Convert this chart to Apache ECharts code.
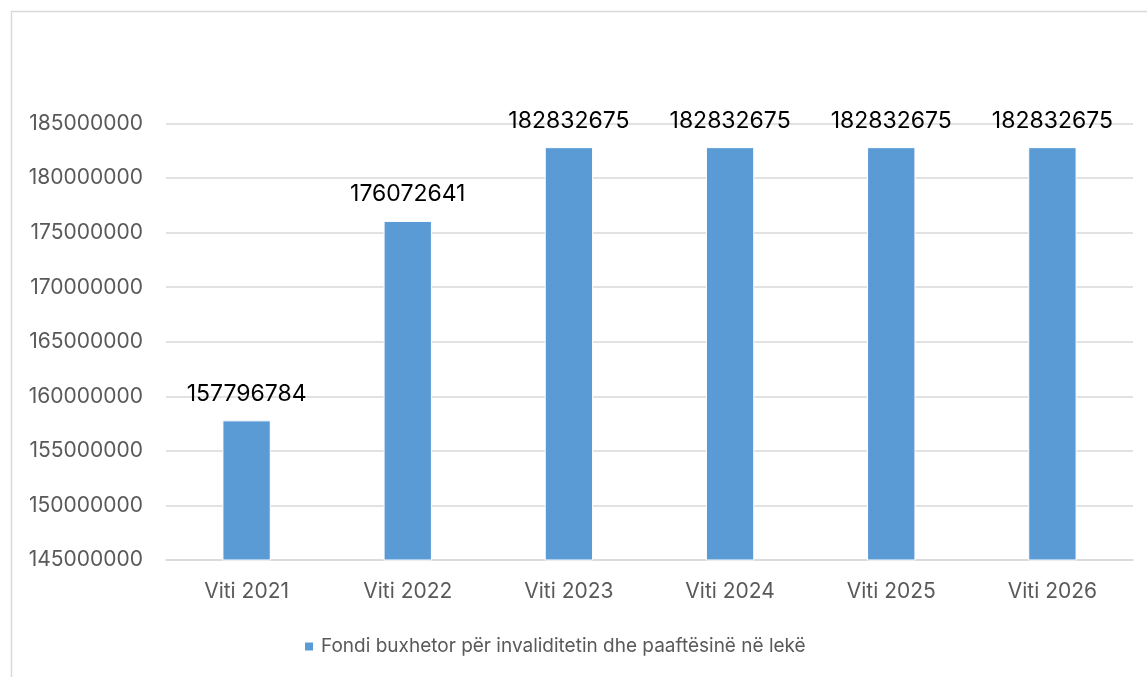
<!DOCTYPE html>
<html>
<head>
<meta charset="utf-8">
<script src="https://cdn.jsdelivr.net/npm/echarts@6/dist/echarts.min.js"></script>
<style>
html,body{margin:0;padding:0;background:#fff;}
#chart{width:1147px;height:677px;}
</style>
</head>
<body>
<div id="chart"></div>
<script>
const categories = ['Viti 2021','Viti 2022','Viti 2023','Viti 2024','Viti 2025','Viti 2026'];
const values = [157796784, 176072641, 182832675, 182832675, 182832675, 182832675];
const seriesName = 'Fondi buxhetor për invaliditetin dhe paaftësinë në lekë';
const yMin = 145000000, yMax = 185000000, yStep = 5000000;

const chart = echarts.init(document.getElementById('chart'), null, {renderer:'canvas'});
const FONT = 'Inter';
chart.setOption({
  animation:false,
  backgroundColor:'#ffffff',
  graphic:[{type:'rect', silent:true, shape:{x:11.5,y:11.5,width:1200,height:700}, style:{fill:'none',stroke:'#d9d9d9',lineWidth:1.5}}],
  grid:{left:166,right:14,top:123.5,bottom:117,containLabel:false},
  legend:{
    data:[seriesName], top:632, left:298,
    icon:'rect', itemWidth:10, itemHeight:10, itemGap:10,
    textStyle:{fontFamily:FONT,fontSize:19,color:'#595959',padding:[0,0,0,2]}
  },
  xAxis:{
    type:'category', data:categories,
    axisLine:{show:true,lineStyle:{color:'#d9d9d9',width:1.5}},
    axisTick:{show:false},
    axisLabel:{fontFamily:FONT,fontSize:21,color:'#595959',margin:21}
  },
  yAxis:{
    type:'value', min:yMin, max:yMax, interval:yStep,
    axisLine:{show:false}, axisTick:{show:false},
    splitLine:{lineStyle:{color:'#d9d9d9',width:1.5}},
    axisLabel:{fontFamily:FONT,fontSize:21,color:'#595959',margin:23,formatter:v=>String(v)}
  },
  series:[{
    name:seriesName, type:'bar', data:values, barWidth:'30%',
    itemStyle:{color:'#5b9bd5',borderColor:'#ffffff',borderWidth:1},
    label:{show:true,position:'top',distance:15,fontFamily:FONT,fontSize:23,color:'#000000'}
  }]
});
</script>
</body>
</html>
